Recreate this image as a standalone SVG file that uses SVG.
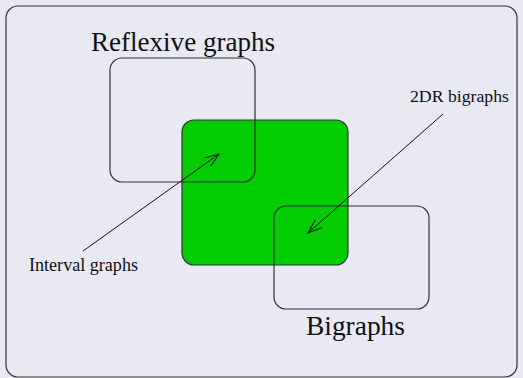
<svg xmlns="http://www.w3.org/2000/svg" width="523" height="378" viewBox="0 0 523 378">
<style>
.box{fill:none;stroke:#333;stroke-width:1.2}
.lbl{font-family:"Liberation Serif",serif;fill:#111}
.ar{stroke:#111;stroke-width:1;fill:none}
</style>
<defs>
<marker id="ah" viewBox="0 0 15 12" refX="14" refY="6" markerWidth="15" markerHeight="12" markerUnits="userSpaceOnUse" orient="auto">
<path d="M0,1 L14,6 L0,11" fill="none" stroke="#111" stroke-width="1"/>
</marker>
</defs>
<rect x="0" y="0" width="523" height="378" fill="#e9e9f3"/>
<g id="frame"><rect x="6" y="6" width="511" height="371" rx="12" class="box"/></g>
<g id="green"><rect x="182" y="120" width="166" height="145" rx="12" fill="#00cc00" stroke="#333" stroke-width="1.2"/></g>
<g id="reflexive"><rect x="110" y="58" width="145" height="124" rx="12" class="box"/>
<text x="91" y="51" class="lbl" font-size="27" textLength="184" lengthAdjust="spacingAndGlyphs">Reflexive graphs</text></g>
<g id="bigraphs"><rect x="274" y="206" width="155" height="103" rx="12" class="box"/>
<text x="306" y="335" class="lbl" font-size="27" textLength="99" lengthAdjust="spacingAndGlyphs">Bigraphs</text></g>
<g id="interval"><text x="29" y="271" class="lbl" font-size="18" textLength="109" lengthAdjust="spacingAndGlyphs">Interval graphs</text></g>
<g id="twodr"><text x="410" y="102" class="lbl" font-size="17.5" textLength="99" lengthAdjust="spacingAndGlyphs">2DR bigraphs</text></g>
<g id="connectors">
<line x1="83" y1="251" x2="219" y2="154" class="ar" marker-end="url(#ah)"/>
<line x1="443" y1="114" x2="308" y2="233" class="ar" marker-end="url(#ah)"/>
</g>
</svg>
